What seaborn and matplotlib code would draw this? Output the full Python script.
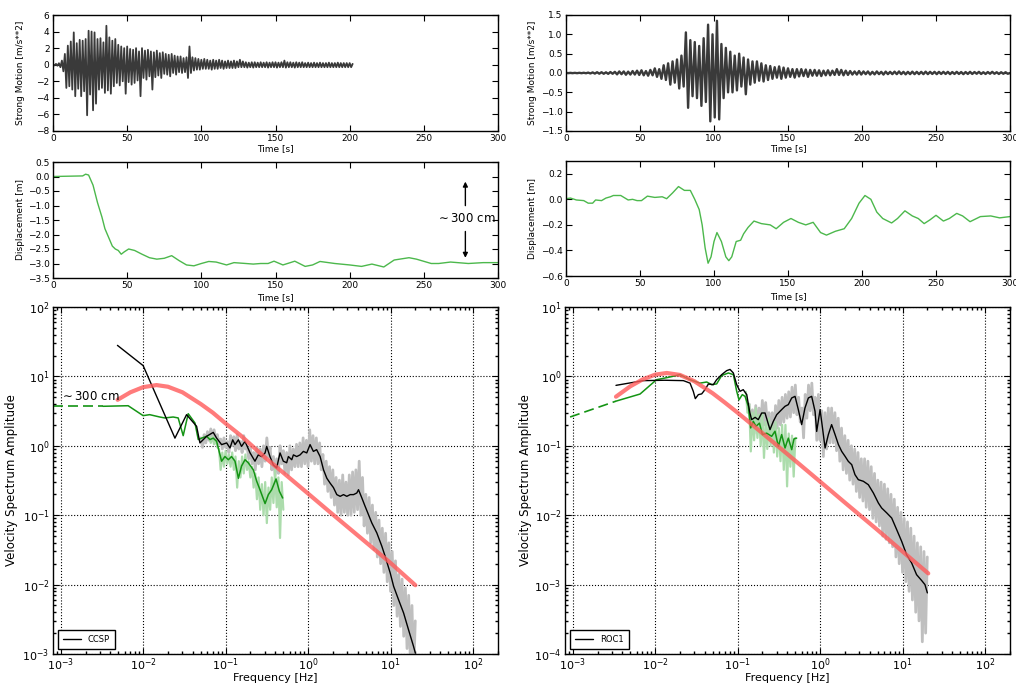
import numpy as np
import matplotlib
matplotlib.use("Agg")
import matplotlib.pyplot as plt
import seaborn as sns

# ---------------- data ----------------
# strong motion, CCSP (sampled every 1 s from t=0)
ACC_L = [0.05, -0.08, 0.1, -0.12, 0.18, -0.3, 0.5, -0.8, 1.3, -2.8,
         2.3, -2.6, 2.8, -3.0, 3.9, -3.8, 2.6, -2.9, 3.0, -3.8,
         2.9, -3.2, 3.1, -6.1, 4.1, -3.6, 4.0, -5.5, 3.9, -4.7,
         3.1, -3.0, 3.2, -2.8, 2.7, -3.4, 4.7, -3.1, 3.3, -3.5,
         2.9, -2.6, 3.1, -2.2, 2.4, -2.5, 2.2, -2.0, 2.0, -3.5,
         2.2, -2.1, 1.9, -2.4, 1.8, -2.2, 2.0, -1.9, 1.6, -3.8,
         2.0, -1.6, 1.7, -1.8, 1.8, -1.4, 1.6, -3.0, 1.5, -1.5,
         1.7, -1.3, 1.4, -1.6, 1.5, -1.1, 1.3, -1.2, 1.2, -1.4,
         1.3, -1.0, 1.1, -1.2, 1.0, -0.9, 1.0, -1.0, 0.8, -0.9,
         0.9, -1.6, 2.2, -1.0, 0.9, -0.7, 0.8, -0.6, 0.7, -0.6,
         0.6, -0.5, 0.7, -0.5, 0.6, -0.5, 0.5, -0.6, 0.6, -0.5,
         0.5, -0.5, 0.6, -0.4, 0.5, -0.5, 0.4, -0.4, 0.5, -0.4,
         0.4, -0.4, 0.5, -0.4, 0.4, -0.3, 0.6, -0.3, 0.4, -0.3,
         0.3, -0.35, 0.25, -0.3, 0.3, -0.35, 0.3, -0.3, 0.25, -0.3,
         0.3, -0.3, 0.25, -0.3, 0.3, -0.35, 0.25, -0.3, 0.3, -0.3,
         0.3, -0.35, 0.25, -0.3, 0.3, -0.3, 0.5, -0.35, 0.3, -0.3,
         0.3, -0.3, 0.25, -0.35, 0.3, -0.3, 0.25, -0.3, 0.3, -0.3,
         0.2, -0.3, 0.25, -0.3, 0.2, -0.3, 0.25, -0.3, 0.2, -0.3,
         0.25, -0.3, 0.2, -0.3, 0.2, -0.3, 0.25, -0.3, 0.2, -0.3,
         0.2, -0.3, 0.25, -0.3, 0.2, -0.3, 0.2, -0.3, 0.2, -0.3,
         0.2, -0.3, 0.1]
ACC_L_DT = 1.0

# strong motion, ROC1 (sampled every 1.5 s from t=0)
ACC_R = [0.003, -0.003, 0.004, -0.004, 0.004, -0.005, 0.005, -0.005, 0.006, -0.006,
         0.01, -0.012, 0.015, -0.015, 0.02, -0.018, 0.02, -0.02, 0.018, -0.022,
         0.025, -0.02, 0.03, -0.035, 0.04, -0.03, 0.04, -0.045, 0.035, -0.04,
         0.05, -0.04, 0.06, -0.05, 0.07, -0.06, 0.05, -0.07, 0.08, -0.06,
         0.12, -0.1, 0.1, -0.15, 0.2, -0.18, 0.25, -0.3, 0.3, -0.25,
         0.35, -0.4, 0.45, -0.35, 1.05, -0.9, 0.85, -0.6, 0.8, -0.65,
         0.7, -0.85, 0.9, -0.75, 1.25, -1.25, 1.0, -1.15, 1.35, -1.2,
         0.75, -0.65, 0.65, -0.5, 0.55, -0.5, 0.45, -0.45, 0.5, -0.35,
         0.4, -0.55, 0.35, -0.3, 0.3, -0.25, 0.3, -0.2, 0.25, -0.22,
         0.2, -0.18, 0.18, -0.15, 0.15, -0.12, 0.17, -0.15, 0.14, -0.12,
         0.12, -0.1, 0.1, -0.12, 0.1, -0.09, 0.1, -0.08, 0.09, -0.1,
         0.08, -0.07, 0.08, -0.07, 0.07, -0.08, 0.06, -0.06, 0.07, -0.06,
         0.06, -0.05, 0.1, -0.05, 0.08, -0.06, 0.06, -0.05, 0.05, -0.04,
         0.04, -0.04, 0.05, -0.04, 0.04, -0.03, 0.04, -0.04, 0.03, -0.035,
         0.04, -0.03, 0.03, -0.04, 0.035, -0.03, 0.03, -0.03, 0.035, -0.03,
         0.04, -0.03, 0.03, -0.035, 0.03, -0.03, 0.035, -0.03, 0.03, -0.03,
         0.03, -0.03, 0.035, -0.03, 0.03, -0.025, 0.03, -0.03, 0.03, -0.025,
         0.03, -0.025, 0.03, -0.03, 0.025, -0.025, 0.03, -0.025, 0.025, -0.03,
         0.025, -0.025, 0.03, -0.025, 0.025, -0.02, 0.03, -0.025, 0.02, -0.025,
         0.025, -0.02, 0.03, -0.02, 0.02, -0.025, 0.02, -0.02, 0.02, -0.02,
         0.0]
ACC_R_DT = 1.5

# displacement
DISP_L_T = [0, 20, 22, 24, 27, 30, 33, 35, 40, 42, 44, 46, 48, 51, 55, 60, 65, 70, 75, 80,
            85, 90, 95, 100, 105, 110, 117, 122, 130, 135, 140, 145, 149, 155, 160, 163,
            170, 175, 180, 190, 200, 208, 215, 223, 230, 240, 245, 255, 260, 268, 280, 290, 300]
DISP_L_V = [0.0, 0.02, 0.08, 0.05, -0.3, -0.9, -1.4, -1.8, -2.4, -2.5, -2.55, -2.68, -2.6,
            -2.5, -2.55, -2.68, -2.8, -2.85, -2.82, -2.73, -2.9, -3.05, -3.08, -3.0, -2.93,
            -2.95, -3.05, -2.97, -3.0, -3.02, -3.0, -3.0, -2.92, -3.05, -2.97, -2.92, -3.1,
            -3.05, -2.93, -3.0, -3.05, -3.1, -3.02, -3.12, -2.88, -2.8, -2.85, -3.0, -3.0,
            -2.95, -3.0, -2.97, -2.97]
DISP_R_T = [0, 3, 7, 12, 15, 18, 20, 24, 27, 30, 32, 37, 42, 45, 48, 51, 55, 60, 65, 68,
            72, 76, 80, 84, 87, 90, 92, 94, 96, 98, 100, 102, 105, 108, 110, 112, 115, 118,
            120, 123, 127, 132, 138, 142, 147, 152, 157, 162, 167, 172, 176, 182, 188, 193,
            198, 202, 206, 210, 214, 220, 224, 229, 234, 238, 242, 246, 250, 255, 259, 264,
            268, 273, 280, 287, 293, 300]
DISP_R_V = [0.005, 0.01, -0.005, -0.01, -0.03, -0.03, -0.005, -0.01, 0.01, 0.02, 0.03, 0.03,
            -0.005, 0.0, -0.01, -0.01, 0.025, 0.015, 0.02, 0.005, 0.05, 0.1, 0.07, 0.07, 0.0,
            -0.08, -0.2, -0.38, -0.5, -0.45, -0.33, -0.26, -0.33, -0.45, -0.48, -0.45, -0.33,
            -0.32, -0.27, -0.22, -0.17, -0.19, -0.2, -0.23, -0.18, -0.15, -0.18, -0.2, -0.18,
            -0.26, -0.28, -0.25, -0.23, -0.15, -0.03, 0.03, 0.0, -0.1, -0.15, -0.185, -0.15,
            -0.09, -0.13, -0.15, -0.19, -0.16, -0.125, -0.17, -0.15, -0.11, -0.13, -0.175,
            -0.135, -0.13, -0.145, -0.135]

# velocity spectra, CCSP
BLK_L_F = [0.00488, 0.0100, 0.0243, 0.0336, 0.0445, 0.0488, 0.0588, 0.0708, 0.0778, 0.0894,
           0.103, 0.113, 0.122, 0.130, 0.143, 0.156, 0.172, 0.198, 0.227, 0.249,
           0.274, 0.301, 0.315, 0.345, 0.379, 0.416, 0.457, 0.501, 0.550, 0.577,
           0.634, 0.664, 0.728, 0.80, 0.877, 0.964, 1.057, 1.16, 1.27, 1.40,
           1.54, 1.69, 1.85, 2.03, 2.23, 2.45, 2.69, 2.95, 3.24, 3.56,
           3.90, 4.09, 4.49, 4.92, 5.40, 5.93, 6.82, 7.85, 8.61, 9.91,
           10.9, 12.5, 14.4, 16.5, 19.0, 20.0]
BLK_L_A = [28.0, 14.3, 1.29, 2.81, 1.91, 1.10, 1.37, 1.56, 1.29, 1.04,
           1.10, 0.93, 1.22, 1.04, 1.22, 0.98, 1.16, 0.79, 0.60, 0.74,
           0.70, 0.79, 0.98, 0.70, 0.53, 0.48, 0.79, 0.60, 0.57, 0.70,
           0.63, 0.74, 0.70, 0.74, 0.83, 0.79, 1.04, 0.83, 0.88, 0.70,
           0.45, 0.34, 0.29, 0.25, 0.198, 0.187, 0.198, 0.187, 0.198, 0.198,
           0.209, 0.233, 0.177, 0.134, 0.102, 0.0773, 0.0555, 0.0356, 0.0255, 0.0147,
           0.00944, 0.00607, 0.0039, 0.00225, 0.00129, 0.00103]
GRN_L_F = [0.00327, 0.00658, 0.0100, 0.0120, 0.0159, 0.0183, 0.0231, 0.0266, 0.0306, 0.0352,
           0.0425, 0.0466, 0.0512, 0.0588, 0.0646, 0.0708, 0.0778, 0.0894, 0.0982, 0.108,
           0.118, 0.130, 0.143, 0.156, 0.172, 0.188, 0.217, 0.238, 0.261, 0.301,
           0.330, 0.362, 0.409, 0.449, 0.492]
GRN_L_A = [3.71, 3.78, 2.72, 2.81, 2.60, 2.52, 2.60, 2.52, 1.40, 2.90,
           2.13, 1.23, 1.29, 1.37, 1.23, 1.29, 1.16, 0.60, 0.70, 0.63,
           0.70, 0.60, 0.34, 0.51, 0.63, 0.57, 0.45, 0.31, 0.233, 0.147,
           0.198, 0.233, 0.333, 0.221, 0.177]
GRN_L_DASH_F = [0.0008, 0.00327]
GRN_L_DASH_A = [3.71, 3.71]
RED_L_F = [0.0049, 0.007, 0.01, 0.0145, 0.02, 0.03, 0.05, 0.07, 0.1, 0.15, 0.2, 0.3,
           0.5, 1.0, 2.0, 5.0, 10.0, 20.0]
RED_L_A = [4.6, 5.9, 7.0, 7.5, 7.1, 5.9, 4.0, 3.0, 2.1, 1.43, 1.05, 0.68,
           0.41, 0.205, 0.102, 0.041, 0.0205, 0.0098]
# raw spectra (log10 f from -1.30 in steps of 0.02)
GRAY_L_LOGF0, GRAY_L_DLOGF = -1.30, 0.02
GRAY_L = [1.3, 0.95, 1.45, 1.1, 1.6, 1.2, 1.75, 1.3, 1.7, 1.25,
          1.45, 1.05, 1.25, 0.9, 1.3, 0.95, 1.15, 0.8, 1.4, 1.0,
          1.35, 0.85, 1.45, 0.9, 1.15, 0.8, 1.4, 0.9, 1.0, 0.65,
          0.95, 0.55, 0.8, 0.45, 0.95, 0.55, 0.9, 0.5, 1.0, 0.6,
          1.3, 0.7, 0.95, 0.45, 0.7, 0.38, 0.65, 0.4, 1.0, 0.55,
          0.85, 0.4, 0.8, 0.38, 1.0, 0.45, 0.9, 0.5, 1.05, 0.5,
          1.1, 0.5, 1.3, 0.55, 1.2, 0.5, 1.7, 0.6, 1.4, 0.55,
          1.3, 0.55, 1.1, 0.45, 0.75, 0.28, 0.6, 0.22, 0.5, 0.18,
          0.45, 0.14, 0.35, 0.11, 0.32, 0.1, 0.38, 0.11, 0.3, 0.1,
          0.38, 0.1, 0.42, 0.11, 0.45, 0.12, 0.6, 0.1, 0.35, 0.07,
          0.2, 0.055, 0.18, 0.04, 0.14, 0.032, 0.11, 0.025, 0.085, 0.02,
          0.065, 0.015, 0.055, 0.011, 0.04, 0.008, 0.03, 0.005, 0.022, 0.0035,
          0.014, 0.0025, 0.012, 0.0018, 0.009, 0.0012, 0.007, 0.0008, 0.005, 0.0005,
          0.003]
LGRN_L_LOGF0, LGRN_L_DLOGF = -1.20, 0.02
LGRN_L = [1.4, 1.1, 1.35, 1.05, 1.25, 0.95, 0.9, 0.45, 0.8, 0.5,
          0.85, 0.55, 0.75, 0.5, 0.8, 0.45, 0.7, 0.25, 0.6, 0.35,
          0.7, 0.4, 0.75, 0.45, 0.6, 0.35, 0.5, 0.25, 0.4, 0.17,
          0.35, 0.12, 0.28, 0.1, 0.3, 0.077, 0.25, 0.12, 0.35, 0.15,
          0.45, 0.13, 0.35, 0.047, 0.3, 0.12]

# velocity spectra, ROC1
BLK_R_F = [0.00335, 0.0072, 0.013, 0.022, 0.0265, 0.029, 0.0307, 0.0334, 0.0367, 0.0402, 0.0442,
           0.0508, 0.0557, 0.0641, 0.0736, 0.0809, 0.0888, 0.0975, 0.107, 0.117, 0.129,
           0.141, 0.148, 0.163, 0.178, 0.196, 0.215, 0.247, 0.271, 0.298, 0.342,
           0.376, 0.412, 0.453, 0.497, 0.545, 0.598, 0.656, 0.721, 0.791, 0.869,
           0.910, 1.0, 1.07, 1.15, 1.26, 1.38, 1.52, 1.67, 1.83, 2.01,
           2.20, 2.42, 2.65, 2.91, 3.35, 3.85, 4.43, 5.09, 5.58, 6.43,
           7.39, 8.49, 9.76, 11.2, 12.9, 14.8, 17.1, 18.7, 20.0]
BLK_R_A = [0.743, 0.869, 0.88, 0.869, 0.80, 0.61, 0.478, 0.546, 0.56, 0.644, 0.777,
           0.76, 0.898, 1.06, 1.21, 1.26, 1.12, 0.76, 0.61, 0.644, 0.546,
           0.297, 0.238, 0.257, 0.238, 0.297, 0.297, 0.171, 0.225, 0.281, 0.332,
           0.371, 0.392, 0.489, 0.516, 0.332, 0.202, 0.351, 0.489, 0.516, 0.314,
           0.161, 0.332, 0.181, 0.093, 0.145, 0.202, 0.145, 0.104, 0.083, 0.0705,
           0.0597, 0.0535, 0.0384, 0.0325, 0.0308, 0.0275, 0.0209, 0.015, 0.0127, 0.0108,
           0.0091, 0.0062, 0.0042, 0.0027, 0.00205, 0.00139, 0.00114, 0.001, 0.00076]
GRN_R_F = [0.00335, 0.00656, 0.0104, 0.0145, 0.020, 0.0265, 0.035, 0.0422, 0.0485, 0.0557,
           0.0641, 0.0773, 0.0888, 0.0975, 0.104, 0.114, 0.123, 0.135, 0.144, 0.155,
           0.167, 0.184, 0.2, 0.225, 0.259, 0.284, 0.312, 0.342, 0.376, 0.412,
           0.453, 0.483, 0.520]
GRN_R_A = [0.44, 0.557, 0.897, 0.97, 1.06, 0.897, 0.80, 0.83, 0.76, 0.78,
           1.03, 1.12, 1.06, 0.61, 0.46, 0.546, 0.516, 0.371, 0.181, 0.225,
           0.191, 0.212, 0.145, 0.152, 0.137, 0.162, 0.098, 0.145, 0.093, 0.129,
           0.088, 0.126, 0.129]
GRN_R_DASH_F = [0.00093, 0.00335]
GRN_R_DASH_A = [0.26, 0.44]
RED_R_F = [0.00335, 0.005, 0.007, 0.01, 0.0138, 0.02, 0.03, 0.05, 0.07, 0.1, 0.2, 0.5,
           1.0, 2.0, 5.0, 10.0, 20.5]
RED_R_A = [0.51, 0.72, 0.9, 1.06, 1.12, 1.05, 0.85, 0.57, 0.42, 0.3, 0.152, 0.061,
           0.0305, 0.0152, 0.0061, 0.003, 0.00145]
GRAY_R_LOGF0, GRAY_R_DLOGF = -0.86, 0.02
GRAY_R = [0.4, 0.17, 0.33, 0.15, 0.38, 0.16, 0.35, 0.18, 0.45, 0.2,
          0.42, 0.2, 0.3, 0.12, 0.3, 0.14, 0.38, 0.18, 0.45, 0.2,
          0.5, 0.22, 0.55, 0.25, 0.6, 0.26, 0.7, 0.3, 0.75, 0.28,
          0.5, 0.22, 0.35, 0.13, 0.55, 0.25, 0.75, 0.32, 0.8, 0.28,
          0.5, 0.12, 0.55, 0.12, 0.32, 0.07, 0.3, 0.09, 0.35, 0.11,
          0.35, 0.11, 0.3, 0.085, 0.25, 0.06, 0.18, 0.045, 0.14, 0.04,
          0.12, 0.032, 0.1, 0.028, 0.09, 0.022, 0.08, 0.018, 0.065, 0.016,
          0.065, 0.013, 0.06, 0.012, 0.05, 0.009, 0.04, 0.008, 0.032, 0.007,
          0.03, 0.005, 0.028, 0.0045, 0.024, 0.004, 0.02, 0.0035, 0.017, 0.0025,
          0.013, 0.002, 0.011, 0.0015, 0.009, 0.0011, 0.008, 0.0008, 0.0065, 0.0006,
          0.005, 0.0004, 0.004, 0.0003, 0.0035, 0.00015, 0.003, 0.0002, 0.0025]
LGRN_R_LOGF0, LGRN_R_DLOGF = -0.90, 0.02
LGRN_R = [0.6, 0.3, 0.4, 0.083, 0.3, 0.12, 0.35, 0.13, 0.28, 0.1,
          0.3, 0.067, 0.22, 0.09, 0.25, 0.1, 0.2, 0.08, 0.22, 0.07,
          0.18, 0.06, 0.2, 0.045, 0.2, 0.026, 0.15, 0.05, 0.14, 0.036,
          0.13]

STATIONS = ["CCSP", "ROC1"]
ANNOT = r"$\sim$300 cm"

# ---------------- style ----------------
sns.set_theme(style="ticks")
plt.rcParams.update({
    "font.family": ["DejaVu Sans"],
    "axes.edgecolor": "black",
    "axes.linewidth": 1.0,
    "axes.facecolor": "white",
    "figure.facecolor": "white",
    "xtick.direction": "in", "ytick.direction": "in",
    "xtick.top": True, "ytick.right": True,
    "xtick.color": "black", "ytick.color": "black",
    "xtick.major.size": 4, "ytick.major.size": 4,
    "xtick.minor.size": 2, "ytick.minor.size": 2,
    "xtick.major.width": 0.8, "ytick.major.width": 0.8,
    "xtick.major.pad": 2.5, "ytick.major.pad": 2.5,
    "axes.grid": False,
    "text.color": "black", "axes.labelcolor": "black",
})

W, H = 1016, 686
fig = plt.figure(figsize=(W / 100, H / 100), dpi=100)


def box(l, t, r, b):
    return [l / W, 1 - b / H, (r - l) / W, (b - t) / H]


ax_al = fig.add_axes(box(53, 15, 498, 131))
ax_ar = fig.add_axes(box(566, 15, 1010, 131))
ax_dl = fig.add_axes(box(53, 162, 498, 278))
ax_dr = fig.add_axes(box(566, 161, 1010, 276))
ax_sl = fig.add_axes(box(53, 307, 498, 654))
ax_sr = fig.add_axes(box(565, 307, 1010, 654))


def draw(ax, x, y, **kw):
    sns.lineplot(x=np.asarray(x, float), y=np.asarray(y, float), ax=ax,
                 estimator=None, sort=False, **kw)


SMALL = 6.5
BIG = 8.5

# --- strong motion ---
draw(ax_al, np.arange(len(ACC_L)) * ACC_L_DT, ACC_L, color="#3a3a3a", linewidth=1.3)
draw(ax_ar, np.arange(len(ACC_R)) * ACC_R_DT, ACC_R, color="#3a3a3a", linewidth=1.7)
ax_al.set_ylim(-8, 6)
ax_al.set_yticks(np.arange(-8, 7, 2))
ax_ar.set_ylim(-1.5, 1.5)
ax_ar.set_yticks(np.arange(-1.5, 1.51, 0.5))

# --- displacement ---
draw(ax_dl, DISP_L_T, DISP_L_V, color="#4cb84c", linewidth=1.0)
draw(ax_dr, DISP_R_T, DISP_R_V, color="#4cb84c", linewidth=1.0)
ax_dl.set_ylim(-3.5, 0.5)
ax_dl.set_yticks(np.arange(-3.5, 0.51, 0.5))
ax_dr.set_ylim(-0.6, 0.3)
ax_dr.set_yticks([-0.6, -0.4, -0.2, 0.0, 0.2])

ax_dl.text(278, -1.45, ANNOT, ha="center", va="center", fontsize=8.5)
ax_dl.annotate("", xy=(278, -0.08), xytext=(278, -1.1),
               arrowprops=dict(arrowstyle="-|>", color="black", lw=1, mutation_scale=7))
ax_dl.annotate("", xy=(278, -2.9), xytext=(278, -1.8),
               arrowprops=dict(arrowstyle="-|>", color="black", lw=1, mutation_scale=7))

for ax in (ax_al, ax_ar, ax_dl, ax_dr):
    ax.set_xlim(0, 300)
    ax.set_xticks(np.arange(0, 301, 50))
    ax.tick_params(labelsize=SMALL)
    ax.set_xlabel("Time [s]", fontsize=SMALL)

ax_al.set_ylabel("Strong Motion [m/s**2]", fontsize=SMALL)
ax_ar.set_ylabel("Strong Motion [m/s**2]", fontsize=SMALL)
ax_dl.set_ylabel("Displacement [m]", fontsize=SMALL)
ax_dr.set_ylabel("Displacement [m]", fontsize=SMALL)
ax_al.yaxis.set_label_coords(-0.063, 0.5)
ax_dl.yaxis.set_label_coords(-0.063, 0.5)
ax_ar.yaxis.set_label_coords(-0.065, 0.5)
ax_dr.yaxis.set_label_coords(-0.065, 0.5)
ax_al.xaxis.set_label_coords(0.5, -0.115)
ax_ar.xaxis.set_label_coords(0.5, -0.115)
ax_dl.xaxis.set_label_coords(0.5, -0.13)
ax_dr.xaxis.set_label_coords(0.5, -0.14)

# --- spectra ---
spec = [
    (ax_sl, GRAY_L_LOGF0, GRAY_L_DLOGF, GRAY_L, LGRN_L_LOGF0, LGRN_L_DLOGF, LGRN_L,
     GRN_L_DASH_F, GRN_L_DASH_A, GRN_L_F, GRN_L_A, BLK_L_F, BLK_L_A, RED_L_F, RED_L_A,
     STATIONS[0], (1e-3, 1e2)),
    (ax_sr, GRAY_R_LOGF0, GRAY_R_DLOGF, GRAY_R, LGRN_R_LOGF0, LGRN_R_DLOGF, LGRN_R,
     GRN_R_DASH_F, GRN_R_DASH_A, GRN_R_F, GRN_R_A, BLK_R_F, BLK_R_A, RED_R_F, RED_R_A,
     STATIONS[1], (1e-4, 1e1)),
]
for (ax, g0, gd, gv, l0, ld, lv, dF, dA, gF, gA, bF, bA, rF, rA, name, ylim) in spec:
    ax.set_xscale("log")
    ax.set_yscale("log")
    draw(ax, 10 ** (g0 + gd * np.arange(len(gv))), gv, color="#bfbfbf", linewidth=2.0)
    draw(ax, 10 ** (l0 + ld * np.arange(len(lv))), lv, color="#acdcac", linewidth=1.6)
    draw(ax, dF, dA, color="#149414", linewidth=1.2, linestyle=(0, (6, 3)))
    draw(ax, gF, gA, color="#149414", linewidth=1.1)
    draw(ax, bF, bA, color="black", linewidth=1.0, label=name)
    draw(ax, rF, rA, color="#ff5a5a", linewidth=3.0, alpha=0.8)
    ax.set_xlim(8.07e-4, 201)
    ax.set_ylim(*ylim)
    ax.grid(True, which="major", color="black", linestyle=":", linewidth=0.8)
    ax.tick_params(labelsize=8)
    ax.tick_params(axis="x", pad=1.5)
    ax.tick_params(which="minor", direction="in", top=True, right=True)
    ax.set_xlabel("Frequency [Hz]", fontsize=8)
    ax.set_ylabel("Velocity Spectrum Amplitude", fontsize=BIG)
    ax.xaxis.set_label_coords(0.5, -0.054)
    leg = ax.legend(loc="lower left", fontsize=6, fancybox=False, framealpha=1,
                    edgecolor="black", handlelength=2.2, borderpad=0.6,
                    borderaxespad=0.6)
    leg.get_frame().set_linewidth(1.0)

ax_sl.yaxis.set_label_coords(-0.079, 0.5)
ax_sr.yaxis.set_label_coords(-0.074, 0.5)
ax_sl.text(9.7e-4, 5.2, ANNOT, ha="left", va="center", fontsize=8.5)

fig.savefig("out.png", dpi=100)
